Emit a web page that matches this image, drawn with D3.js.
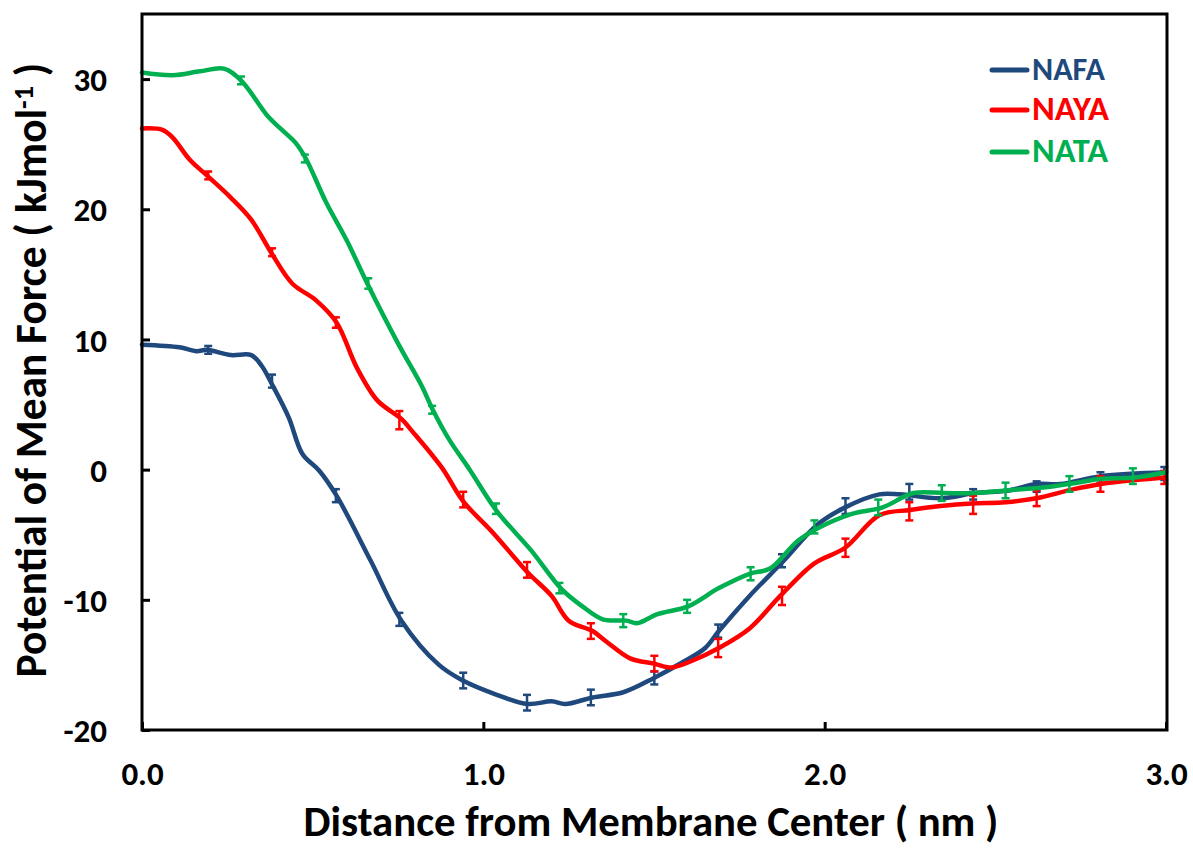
<!DOCTYPE html>
<html>
<head>
<meta charset="utf-8">
<script src="https://cdn.jsdelivr.net/npm/d3@7"></script>
<style>
  html, body { margin: 0; padding: 0; background: #fff; }
  svg { display: block; }
</style>
</head>
<body>
<svg id="chart" width="1193" height="848"></svg>
<script>
// distance (nm) / PMF (kJ/mol)
const nafaX = [0.00, 0.11, 0.16, 0.19, 0.26, 0.32, 0.35, 0.38, 0.43, 0.47, 0.52, 0.57, 0.67, 0.76, 0.87, 0.94, 1.03, 1.13, 1.20, 1.24, 1.32, 1.41, 1.50, 1.59, 1.65, 1.69, 1.78, 1.88, 1.98, 2.06, 2.16, 2.22, 2.34, 2.44, 2.54, 2.62, 2.69, 2.81, 3.00];
const nafaY = [9.6, 9.4, 9.1, 9.2, 8.8, 8.8, 8.0, 6.6, 4.0, 1.2, -0.1, -2.0, -7.0, -11.6, -15.0, -16.2, -17.2, -18.0, -17.8, -18.0, -17.5, -17.1, -16.0, -14.7, -13.7, -12.4, -9.7, -7.0, -4.2, -2.9, -1.9, -1.9, -2.2, -1.8, -1.6, -1.1, -1.1, -0.5, -0.2];

const nayaX = [0.00, 0.06, 0.09, 0.14, 0.19, 0.26, 0.32, 0.38, 0.44, 0.51, 0.57, 0.63, 0.69, 0.76, 0.79, 0.88, 0.94, 1.03, 1.13, 1.20, 1.25, 1.32, 1.36, 1.43, 1.50, 1.55, 1.61, 1.69, 1.78, 1.87, 1.97, 2.06, 2.16, 2.25, 2.34, 2.43, 2.53, 2.62, 2.73, 2.81, 2.91, 3.00];
const nayaY = [26.2, 26.1, 25.5, 23.8, 22.6, 20.9, 19.2, 16.6, 14.3, 13.0, 11.3, 7.8, 5.3, 3.9, 3.0, 0.1, -2.4, -4.9, -7.9, -9.7, -11.6, -12.4, -13.2, -14.5, -14.9, -15.2, -14.7, -13.7, -12.2, -9.7, -7.2, -6.0, -3.5, -3.1, -2.8, -2.6, -2.5, -2.2, -1.5, -1.1, -0.8, -0.6];

const nataX = [0.00, 0.09, 0.17, 0.24, 0.29, 0.37, 0.41, 0.45, 0.48, 0.54, 0.60, 0.66, 0.75, 0.82, 0.85, 0.90, 0.96, 1.04, 1.14, 1.23, 1.29, 1.35, 1.42, 1.45, 1.51, 1.60, 1.69, 1.78, 1.84, 1.92, 1.98, 2.08, 2.17, 2.26, 2.35, 2.44, 2.53, 2.63, 2.74, 2.81, 2.91, 3.00];
const nataY = [30.5, 30.3, 30.6, 30.8, 29.9, 27.1, 26.1, 25.1, 23.9, 20.5, 17.6, 14.3, 9.7, 6.4, 4.7, 2.3, 0.0, -3.2, -6.2, -9.2, -10.5, -11.5, -11.6, -11.8, -11.1, -10.5, -9.1, -8.0, -7.6, -5.5, -4.5, -3.4, -2.9, -1.8, -1.8, -1.8, -1.6, -1.4, -1.0, -0.7, -0.6, -0.2];

// error bars: position, value, half-width
const nafaErrX = [0.194, 0.381, 0.568, 0.754, 0.941, 1.128, 1.315, 1.501, 1.688, 1.875, 2.061, 2.248, 2.435, 2.621, 2.808, 2.995];
const nafaErrY = [9.2, 6.8, -2.0, -11.5, -16.2, -17.9, -17.5, -16.0, -12.4, -7.0, -2.8, -1.7, -1.9, -1.3, -0.6, -0.3];
const nafaErr  = [0.3, 0.5, 0.5, 0.5, 0.6, 0.6, 0.6, 0.5, 0.5, 0.5, 0.6, 0.6, 0.4, 0.4, 0.4, 0.5];

const nayaErrX = [0.194, 0.381, 0.568, 0.754, 0.941, 1.128, 1.315, 1.501, 1.688, 1.875, 2.061, 2.248, 2.435, 2.621, 2.808, 2.995];
const nayaErrY = [22.6, 16.7, 11.3, 3.8, -2.3, -7.7, -12.4, -14.9, -13.7, -9.7, -6.0, -3.2, -2.7, -2.2, -1.1, -0.6];
const nayaErr  = [0.3, 0.3, 0.4, 0.7, 0.6, 0.6, 0.6, 0.6, 0.7, 0.7, 0.7, 0.7, 0.7, 0.6, 0.6, 0.5];

const nataErrX = [0.290, 0.477, 0.663, 0.850, 1.037, 1.223, 1.410, 1.597, 1.783, 1.970, 2.157, 2.343, 2.530, 2.717, 2.903];
const nataErrY = [29.9, 23.9, 14.3, 4.6, -3.0, -9.1, -11.6, -10.5, -8.0, -4.4, -2.9, -1.8, -1.6, -1.1, -0.5];
const nataErr  = [0.3, 0.3, 0.4, 0.3, 0.4, 0.4, 0.5, 0.5, 0.5, 0.5, 0.6, 0.6, 0.6, 0.6, 0.6];

const seriesNames = ['NAFA', 'NAYA', 'NATA'];
const seriesColors = ['#1F497D', '#FF0000', '#00B050'];
const xTicks = [0, 1, 2, 3];
const yTicks = [-20, -10, 0, 10, 20, 30];

const svg = d3.select('#chart');
const font = 'Carlito, Calibri, Lato, sans-serif';

const plotL = 142, plotR = 1166, plotT = 14, plotB = 730;

const x = d3.scaleLinear().domain([0, 3]).range([plotL, plotR]);
const y = d3.scaleLinear().domain([-20, 35]).range([plotB, plotT]);

const series = [
  { xs: nafaX, ys: nafaY, ex: nafaErrX, ey: nafaErrY, ee: nafaErr },
  { xs: nayaX, ys: nayaY, ex: nayaErrX, ey: nayaErrY, ee: nayaErr },
  { xs: nataX, ys: nataY, ex: nataErrX, ey: nataErrY, ee: nataErr }
];

const line = d3.line()
  .x(d => x(d[0]))
  .y(d => y(d[1]))
  .curve(d3.curveCatmullRom.alpha(0.5));

// curves + error bars
series.forEach((s, i) => {
  const pts = s.xs.map((v, k) => [v, s.ys[k]]);
  svg.append('path')
    .datum(pts)
    .attr('d', line)
    .attr('fill', 'none')
    .attr('stroke', seriesColors[i])
    .attr('stroke-width', 4.5)
    .attr('stroke-linejoin', 'round')
    .attr('stroke-linecap', 'round');

  const bars = svg.append('g')
    .attr('stroke', seriesColors[i])
    .attr('stroke-width', 2.5);
  s.ex.forEach((v, k) => {
    const cx = x(v);
    const y1 = y(s.ey[k] + s.ee[k]);
    const y2 = y(s.ey[k] - s.ee[k]);
    bars.append('line').attr('x1', cx).attr('x2', cx).attr('y1', y1).attr('y2', y2);
    bars.append('line').attr('x1', cx - 4).attr('x2', cx + 4).attr('y1', y1).attr('y2', y1);
    bars.append('line').attr('x1', cx - 4).attr('x2', cx + 4).attr('y1', y2).attr('y2', y2);
  });
});

// frame
svg.append('rect')
  .attr('x', plotL).attr('y', plotT)
  .attr('width', plotR - plotL + 1).attr('height', plotB - plotT)
  .attr('fill', 'none')
  .attr('stroke', '#000')
  .attr('stroke-width', 3);

// axes with inward ticks
const xAxis = svg.append('g')
  .attr('transform', `translate(0,${plotB})`)
  .call(d3.axisBottom(x).tickValues(xTicks).tickFormat(d3.format('.1f')).tickSizeInner(-8).tickSizeOuter(0).tickPadding(32));
const yAxis = svg.append('g')
  .attr('transform', `translate(${plotL},0)`)
  .call(d3.axisLeft(y).tickValues(yTicks).tickFormat(d => String(d)).tickSizeInner(-8).tickSizeOuter(0).tickPadding(35));

[xAxis, yAxis].forEach(g => {
  g.select('.domain').remove();
  g.selectAll('.tick line').attr('stroke', '#000').attr('stroke-width', 3);
  g.selectAll('.tick text')
    .attr('fill', '#000')
    .style('font-family', font)
    .style('font-weight', 'bold')
    .style('font-size', '33px');
});
yAxis.selectAll('.tick text').attr('dy', '0.35em');

// fit a text element to a target width
function fit(t, w) {
  const len = t.node().getComputedTextLength();
  const fs = parseFloat(t.style('font-size'));
  t.style('font-size', (fs * w / len).toFixed(2) + 'px');
}

const xt = svg.append('text')
  .attr('x', 651).attr('y', 836)
  .attr('text-anchor', 'middle')
  .style('font-family', font).style('font-weight', 'bold').style('font-size', '34px')
  .attr('fill', '#000')
  .text('Distance from Membrane Center ( nm )');
fit(xt, 695);

const yt = svg.append('text')
  .attr('transform', 'translate(46,370) rotate(-90)')
  .attr('text-anchor', 'middle')
  .style('font-family', font).style('font-weight', 'bold').style('font-size', '32px')
  .attr('fill', '#000');
yt.append('tspan').text('Potential of Mean Force ( kJmol');
yt.append('tspan').attr('dy', -13).style('font-size', '0.65em').text('-1');
yt.append('tspan').attr('dy', 13).text(' )');
fit(yt, 615);

// legend
const leg = svg.append('g');
seriesNames.forEach((name, i) => {
  const ly = [70, 110, 152][i];
  leg.append('line')
    .attr('x1', 992).attr('x2', 1027).attr('y1', ly).attr('y2', ly)
    .attr('stroke', seriesColors[i]).attr('stroke-width', 5).attr('stroke-linecap', 'round');
  const t = leg.append('text')
    .attr('x', 1032).attr('y', ly + 10)
    .attr('fill', seriesColors[i])
    .style('font-family', font).style('font-weight', 'bold').style('font-size', '25px')
    .text(name);
  fit(t, [73, 77, 76][i]);
});
</script>
</body>
</html>
